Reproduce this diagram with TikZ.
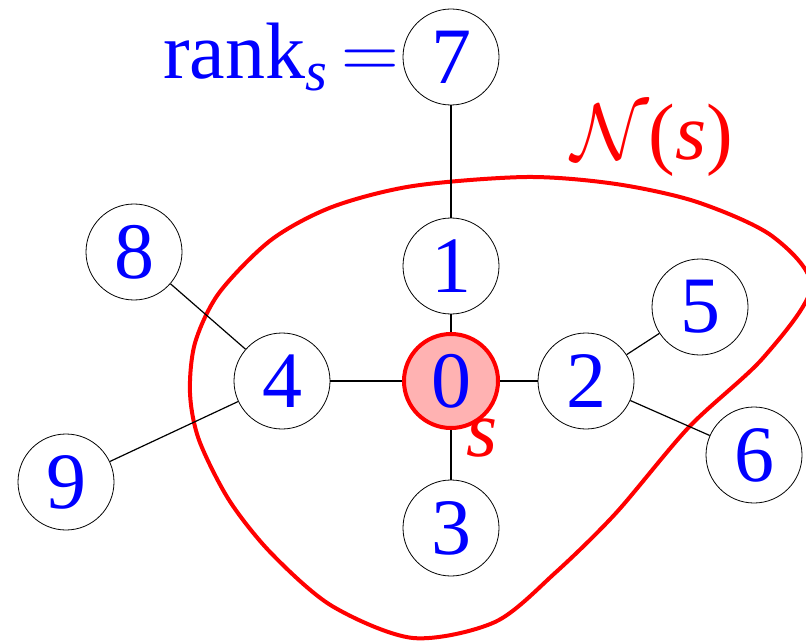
\RequirePackage{fix-cm}
\documentclass[tikz,border=0pt]{standalone}
\usepackage{fontspec}
\setmainfont{Liberation Serif}
\usetikzlibrary{positioning}

\begin{document}
\begin{tikzpicture}[x=0.5pt, y=-0.5pt,
  vert/.style={draw, circle, minimum size=48pt, inner sep=0pt, fill=white, text=blue, font=\fontsize{40}{48}\selectfont},
  src/.style={vert, draw=red, line width=2pt, minimum size=47pt, fill=red!30},
  edge/.style={line width=0.6pt},
  lab/.style={inner sep=0pt, font=\fontsize{40}{48}\selectfont}]
\useasboundingbox (0,0) rectangle (806,641);

\draw[red, line width=2pt] plot[smooth cycle] coordinates {(527,177) (616,184) (697,202) (772,236) (811,287) (763,358) (689,427) (616,513) (555,573) (495,622) (413,638) (332,606) (271,553) (229,500) (199,440) (190,393) (195,343) (219,293) (271,240) (332,207) (413,186)};

\node[src] (n0) at (451,381) {0};
\node[vert] (n1) at (451,266) {1};
\node[vert] (n2) at (586,381) {2};
\node[vert] (n3) at (451,528) {3};
\node[vert] (n4) at (282,381) {4};
\node[vert] (n5) at (700,307) {5};
\node[vert] (n6) at (754,455) {6};
\node[vert] (n7) at (451,57) {7};
\node[vert] (n8) at (134,252) {8};
\node[vert] (n9) at (66,482) {9};

\draw[edge] (n7) -- (n1);
\draw[edge] (n1) -- (n0);
\draw[edge] (n0) -- (n3);
\draw[edge] (n0) -- (n2);
\draw[edge] (n0) -- (n4);
\draw[edge] (n2) -- (n5);
\draw[edge] (n2) -- (n6);
\draw[edge] (n4) -- (n8);
\draw[edge] (n4) -- (n9);

\node[lab, text=blue, left=1.5pt of n7] (rank) {rank\textsubscript{\textit{s}}\,$=$};
\node[lab, text=red] (nbr) at (652,140) {$\mathcal{N}$(\textit{s})};
\node[lab, text=red] (slab) at (482,438) {\textit{s}};
\end{tikzpicture}
\end{document}
